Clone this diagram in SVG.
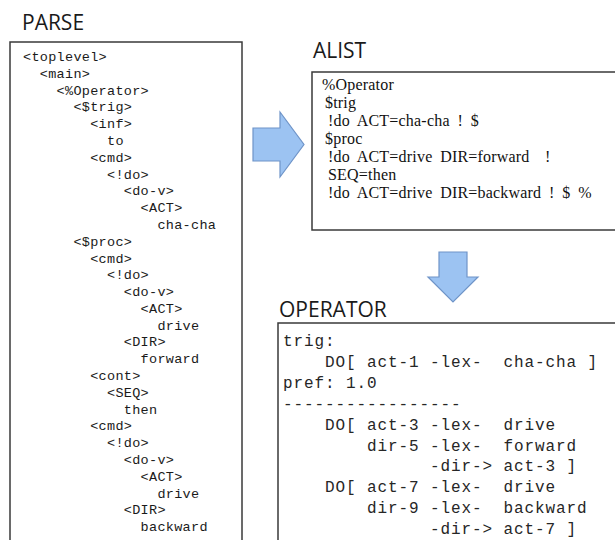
<svg xmlns="http://www.w3.org/2000/svg" width="615" height="540" viewBox="0 0 615 540">
<style>
.title{font-family:"Open Sans","Liberation Sans",sans-serif;font-size:21px;fill:#1a1a1a}
.box{fill:#fff;stroke:#3a3a3a;stroke-width:1.5}
.pt{font-family:"Liberation Mono",monospace;font-size:13.5px;letter-spacing:0.3px;fill:#1a1a1a}
.at{font-family:"Liberation Serif",serif;font-size:16px;fill:#111;letter-spacing:0.2px;word-spacing:3.5px}
.ot{font-family:"Liberation Mono",monospace;font-size:16px;fill:#262626;letter-spacing:0.9px;white-space:pre}
.arrow{fill:#9cc3f2;stroke:#6f94c8;stroke-width:1.2;stroke-linejoin:miter}
</style>
<rect width="615" height="540" fill="#fff"/>
<g id="parse">
<text class="title" x="22" y="30">PARSE</text>
<rect class="box" x="10" y="42" width="232" height="510"/>
<text class="pt" x="23" y="61">&lt;toplevel&gt;</text>
<text class="pt" x="39.8" y="77.8">&lt;main&gt;</text>
<text class="pt" x="56.6" y="94.6">&lt;%Operator&gt;</text>
<text class="pt" x="73.4" y="111.4">&lt;$trig&gt;</text>
<text class="pt" x="90.2" y="128.2">&lt;inf&gt;</text>
<text class="pt" x="107" y="145">to</text>
<text class="pt" x="90.2" y="161.7">&lt;cmd&gt;</text>
<text class="pt" x="107" y="178.5">&lt;!do&gt;</text>
<text class="pt" x="123.8" y="195.3">&lt;do-v&gt;</text>
<text class="pt" x="140.6" y="212.1">&lt;ACT&gt;</text>
<text class="pt" x="157.4" y="228.9">cha-cha</text>
<text class="pt" x="73.4" y="245.7">&lt;$proc&gt;</text>
<text class="pt" x="90.2" y="262.5">&lt;cmd&gt;</text>
<text class="pt" x="107" y="279.3">&lt;!do&gt;</text>
<text class="pt" x="123.8" y="296.1">&lt;do-v&gt;</text>
<text class="pt" x="140.6" y="312.9">&lt;ACT&gt;</text>
<text class="pt" x="157.4" y="329.6">drive</text>
<text class="pt" x="123.8" y="346.4">&lt;DIR&gt;</text>
<text class="pt" x="140.6" y="363.2">forward</text>
<text class="pt" x="90.2" y="380">&lt;cont&gt;</text>
<text class="pt" x="107" y="396.8">&lt;SEQ&gt;</text>
<text class="pt" x="123.8" y="413.6">then</text>
<text class="pt" x="90.2" y="430.4">&lt;cmd&gt;</text>
<text class="pt" x="107" y="447.2">&lt;!do&gt;</text>
<text class="pt" x="123.8" y="464">&lt;do-v&gt;</text>
<text class="pt" x="140.6" y="480.8">&lt;ACT&gt;</text>
<text class="pt" x="157.4" y="497.5">drive</text>
<text class="pt" x="123.8" y="514.3">&lt;DIR&gt;</text>
<text class="pt" x="140.6" y="531.1">backward</text>
</g>
<g id="alist">
<text class="title" x="313" y="58">ALIST</text>
<rect class="box" x="312" y="72" width="310" height="158"/>
<text class="at" x="322" y="90">%Operator</text>
<text class="at" x="325" y="108">$trig</text>
<text class="at" x="328" y="126">!do ACT=cha-cha ! $</text>
<text class="at" x="325" y="144">$proc</text>
<text class="at" x="328" y="162" xml:space="preserve">!do ACT=drive DIR=forward  !</text>
<text class="at" x="328" y="180">SEQ=then</text>
<text class="at" x="328" y="198">!do ACT=drive DIR=backward ! $ %</text>
</g>
<g id="operator">
<text class="title" x="279" y="317">OPERATOR</text>
<rect class="box" x="278" y="323" width="345" height="230"/>
<text class="ot" x="283" y="346" xml:space="preserve">trig:</text>
<text class="ot" x="283" y="366.9" xml:space="preserve">    DO[ act-1 -lex-  cha-cha ]</text>
<text class="ot" x="283" y="387.8" xml:space="preserve">pref: 1.0</text>
<text class="ot" x="283" y="408.7" xml:space="preserve">-----------------</text>
<text class="ot" x="283" y="429.6" xml:space="preserve">    DO[ act-3 -lex-  drive</text>
<text class="ot" x="283" y="450.5" xml:space="preserve">        dir-5 -lex-  forward</text>
<text class="ot" x="283" y="471.4" xml:space="preserve">              -dir-&gt; act-3 ]</text>
<text class="ot" x="283" y="492.3" xml:space="preserve">    DO[ act-7 -lex-  drive</text>
<text class="ot" x="283" y="513.2" xml:space="preserve">        dir-9 -lex-  backward</text>
<text class="ot" x="283" y="534.1" xml:space="preserve">              -dir-&gt; act-7 ]</text>
</g>
<g id="connectors">
<path id="arrow-parse-alist" class="arrow" d="M253,128 H280 V112 L304,144.5 L280,177 V161 H253 Z"/>
<path id="arrow-alist-operator" class="arrow" d="M439,252 H467 V277 H478 L453,302 L428,277 H439 Z"/>
</g>
</svg>
